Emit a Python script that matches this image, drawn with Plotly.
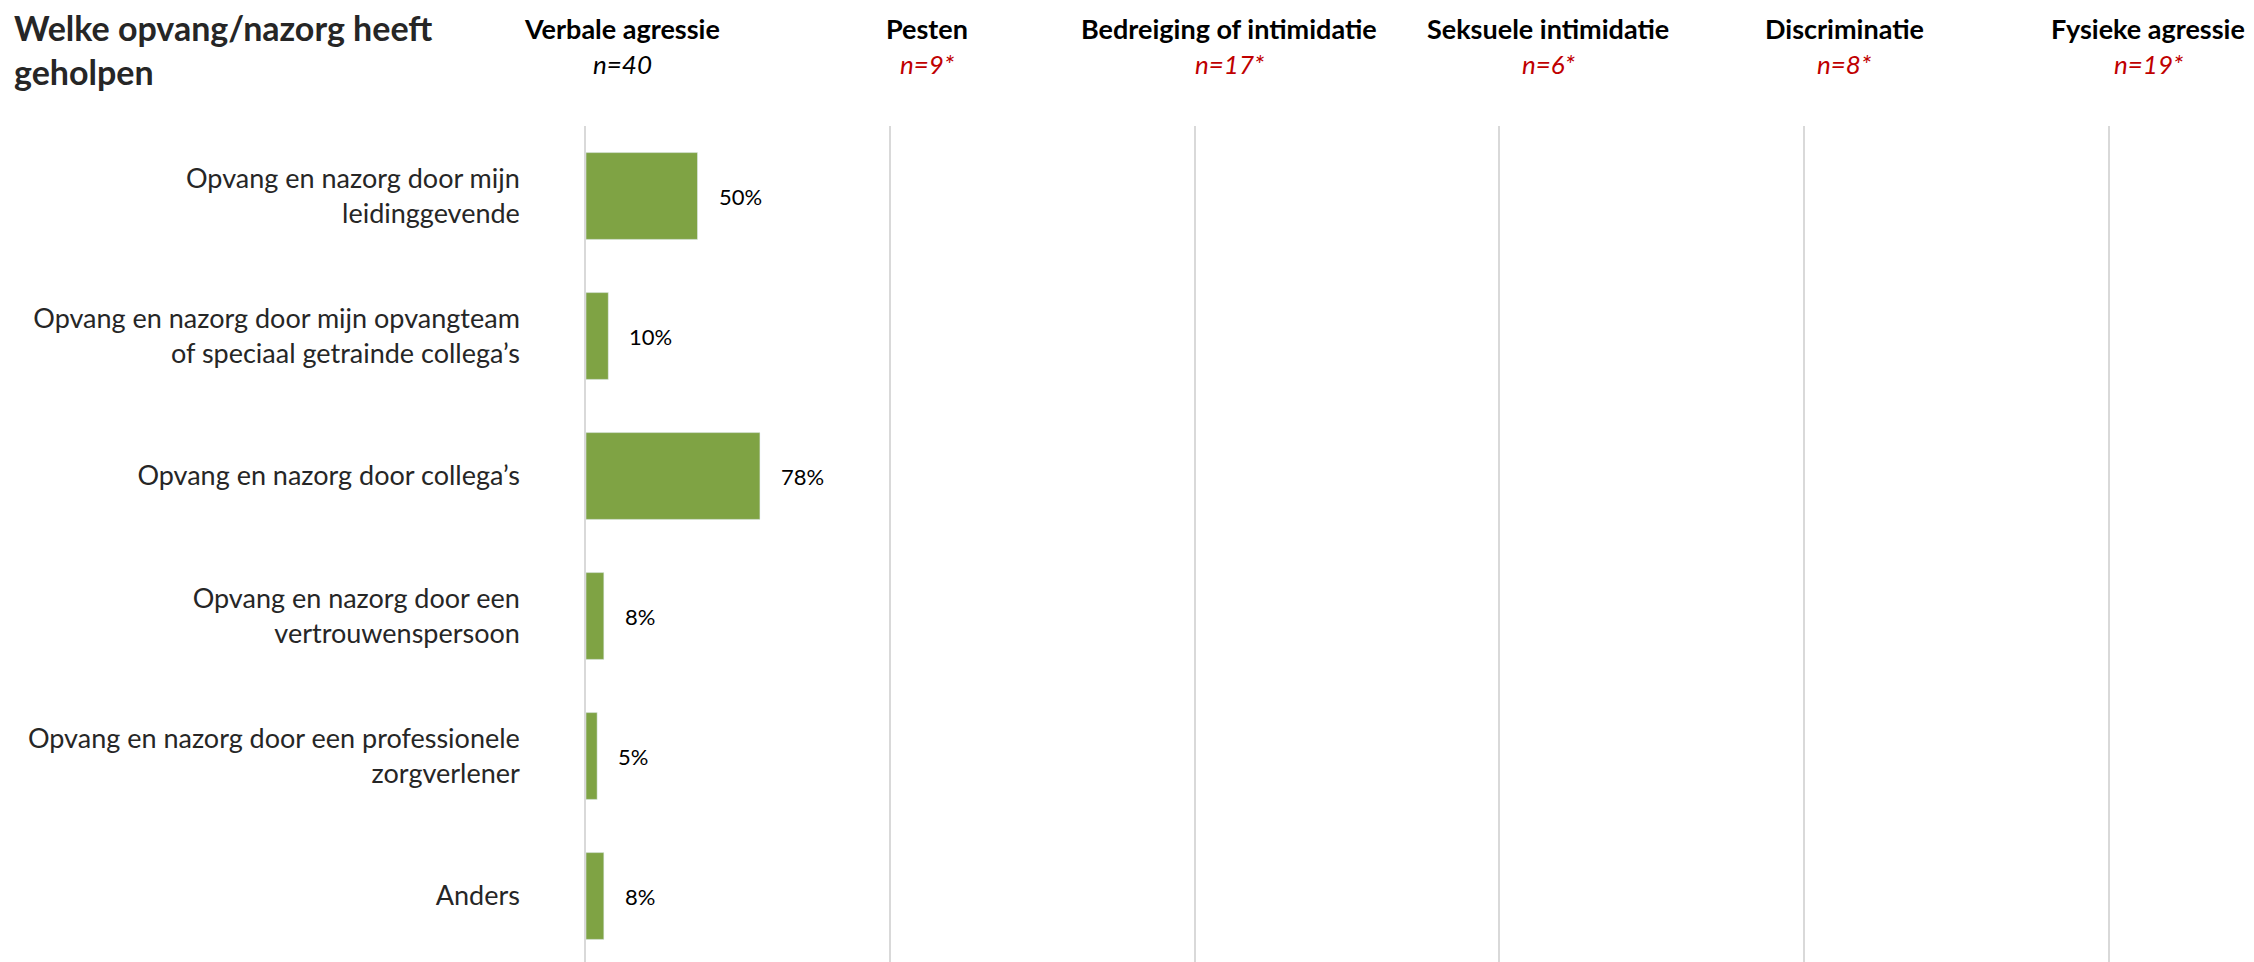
import plotly.graph_objects as go

CATEGORIES = [
    'Opvang en nazorg door mijn<br>leidinggevende',
    'Opvang en nazorg door mijn opvangteam<br>of speciaal getrainde collega’s',
    'Opvang en nazorg door collega’s',
    'Opvang en nazorg door een<br>vertrouwenspersoon',
    'Opvang en nazorg door een professionele<br>zorgverlener',
    'Anders',
]
VALUES = [0.50, 0.10, 0.78, 0.08, 0.05, 0.08]
PANELS = ['Verbale agressie', 'Pesten', 'Bedreiging of intimidatie',
          'Seksuele intimidatie', 'Discriminatie', 'Fysieke agressie']
PANEL_N = ['n=40', 'n=9*', 'n=17*', 'n=6*', 'n=8*', 'n=19*']
SMALL_N = [False, True, True, True, True, True]
TITLE = 'Welke opvang/nazorg heeft<br>geholpen'

# the page body has an 8px margin, so the figure is drawn 8px smaller and shifted
PAD = 8
W, H = 2254 - PAD, 962 - PAD
FONT = 'Lato'
GREEN = '#7FA344'
RED = '#C00000'
GRID = '#D9D9D9'
AXIS_X0 = 586 - PAD
PANEL_W = 304.8
PX_PER_UNIT = 223
ROW_PX = 140
TOP = 126 - PAD
HEADER_X = [622, 927, 1229, 1548, 1844, 2148]

fig = go.Figure()
layout = dict(
    width=W, height=H, margin=dict(l=0, r=0, t=0, b=0),
    paper_bgcolor='white', plot_bgcolor='white',
    showlegend=False, bargap=0.38,
    font=dict(family=FONT, color='#262626'),
)

n_cat = len(CATEGORIES)
for i in range(len(PANELS)):
    left = AXIS_X0 + i * PANEL_W
    right = min(AXIS_X0 + (i + 1) * PANEL_W - 1, W)
    xa = 'xaxis' if i == 0 else f'xaxis{i + 1}'
    ya = 'yaxis' if i == 0 else f'yaxis{i + 1}'
    xr = 'x' if i == 0 else f'x{i + 1}'
    yr = 'y' if i == 0 else f'y{i + 1}'
    vals = VALUES if i == 0 else [None] * n_cat
    fig.add_trace(go.Bar(x=vals, y=CATEGORIES, orientation='h',
                         marker=dict(color=GREEN), xaxis=xr, yaxis=yr,
                         hoverinfo='skip'))
    layout[xa] = dict(domain=[left / W, right / W],
                      range=[0, (right - left) / PX_PER_UNIT],
                      visible=False, fixedrange=True, anchor=yr)
    layout[ya] = dict(domain=[0, 1 - TOP / H], anchor=xr,
                      type='category', categoryorder='array', categoryarray=CATEGORIES,
                      range=[-0.5 + (H - TOP) / ROW_PX, -0.5],
                      showline=True, linecolor=GRID, linewidth=1.5,
                      showgrid=False, zeroline=False, ticks='',
                      showticklabels=(i == 0), ticklabelstandoff=59,
                      tickfont=dict(family=FONT, size=27, color='#262626'))

annotations = []
for cat, v in zip(CATEGORIES, VALUES):
    annotations.append(dict(x=v, y=cat, xref='x', yref='y', text=f'{round(v * 100)}%',
                            xanchor='left', yanchor='middle', xshift=19, showarrow=False,
                            font=dict(family=FONT, size=22, color='black')))

for name, n, small, hx in zip(PANELS, PANEL_N, SMALL_N, HEADER_X):
    annotations.append(dict(x=(hx - PAD) / W, y=1 - (29 - PAD) / H, xref='paper', yref='paper',
                            text=f'<b>{name}</b>', showarrow=False,
                            xanchor='center', yanchor='middle',
                            font=dict(family=FONT, size=27, color='black')))
    annotations.append(dict(x=(hx - PAD) / W, y=1 - (64 - PAD) / H, xref='paper', yref='paper',
                            text=f'<i>{n}</i>', showarrow=False,
                            xanchor='center', yanchor='middle',
                            font=dict(family=FONT, size=26, color=RED if small else 'black')))

annotations.append(dict(x=(12 - PAD) / W, y=1 - (50 - PAD) / H, xref='paper', yref='paper',
                        text=f'<b>{TITLE}</b>', showarrow=False, align='left',
                        xanchor='left', yanchor='middle',
                        font=dict(family=FONT, size=34, color='#262626')))

layout['annotations'] = annotations
fig.update_layout(**layout)
fig.write_html('out.html')
